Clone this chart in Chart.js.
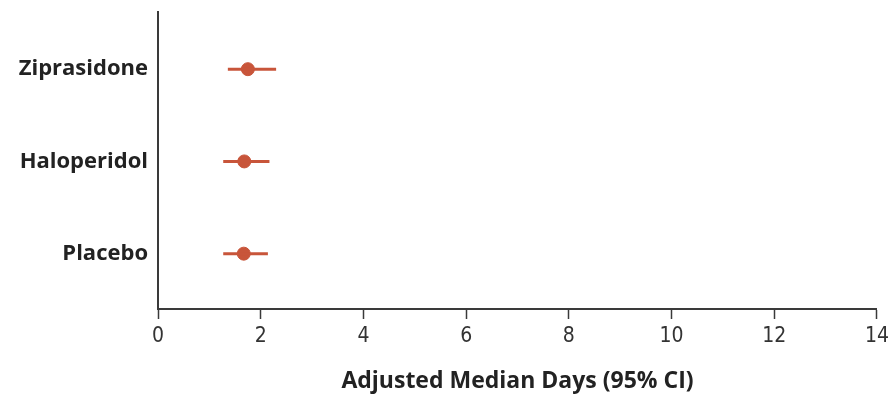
<!DOCTYPE html>
<html>
<head>
<meta charset="utf-8">
<script src="https://cdn.jsdelivr.net/npm/chart.js@4"></script>
<style>
  html, body { margin: 0; padding: 0; background: #fff; }
  #wrap { width: 894px; height: 397px; }
</style>
</head>
<body>
<div id="wrap"><canvas id="forest"></canvas></div>
<script>
/* data */
const groups = ['Placebo', 'Haloperidol', 'Ziprasidone'];
const medians = [1.67, 1.68, 1.75];
const ciLow = [1.27, 1.27, 1.36];
const ciHigh = [2.14, 2.17, 2.30];
const xTicks = [0, 2, 4, 6, 8, 10, 12, 14];

const markColor = '#c8553a';
const axisColor = '#3a3a3a';

/* one line per confidence interval, then the medians on top */
const datasets = groups.map((g, i) => ({
    type: 'line',
    data: [{ x: ciLow[i], y: i }, { x: ciHigh[i], y: i }],
    borderColor: markColor,
    borderWidth: 3,
    pointRadius: 0
}));

datasets.push({
    type: 'scatter',
    data: groups.map((g, i) => ({ x: medians[i], y: i })),
    backgroundColor: markColor,
    borderColor: markColor,
    pointRadius: 6.5,
    pointHoverRadius: 6.5
});

const ctx = document.getElementById('forest').getContext('2d');
new Chart(ctx, {
    type: 'scatter',
    data: { datasets: datasets },
    options: {
        responsive: true,
        maintainAspectRatio: false,
        animation: false,
        layout: { padding: { top: 12, right: 17, left: 0, bottom: 0 } },
        plugins: {
            legend: { display: false },
            tooltip: { enabled: false }
        },
        scales: {
            x: {
                type: 'linear',
                min: 0,
                max: 14,
                afterBuildTicks: scale => {
                    scale.ticks = xTicks.map(v => ({ value: v }));
                },
                afterFit: scale => { scale.height = 88; },
                grid: {
                    drawOnChartArea: false,
                    tickLength: 10,
                    tickColor: axisColor,
                    tickWidth: 1.5
                },
                border: { display: true, color: axisColor, width: 2 },
                ticks: {
                    color: '#333',
                    padding: 5,
                    maxRotation: 0,
                    font: { family: "'Liberation Sans Narrow', 'DejaVu Sans Condensed', sans-serif", size: 21 }
                },
                title: {
                    display: true,
                    text: 'Adjusted Median Days (95% CI)',
                    color: '#222',
                    padding: { top: 10, bottom: 2 },
                    font: { family: "'Open Sans', sans-serif", size: 23, weight: 'bold' }
                }
            },
            y: {
                type: 'linear',
                min: -0.6,
                max: 2.62,
                afterBuildTicks: scale => {
                    scale.ticks = groups.map((g, i) => ({ value: i }));
                },
                // labels sit well inside the range, so no extra room is needed at the ends
                afterFit: scale => {
                    scale.width = 158;
                    scale.paddingTop = 0;
                    scale.paddingBottom = 0;
                },
                grid: { drawOnChartArea: false, drawTicks: false },
                border: { display: true, color: axisColor, width: 2 },
                ticks: {
                    color: '#222',
                    padding: 10,
                    callback: value => groups[value],
                    font: { family: "'Open Sans', sans-serif", size: 22, weight: 'bold' }
                }
            }
        }
    }
});
</script>
</body>
</html>
